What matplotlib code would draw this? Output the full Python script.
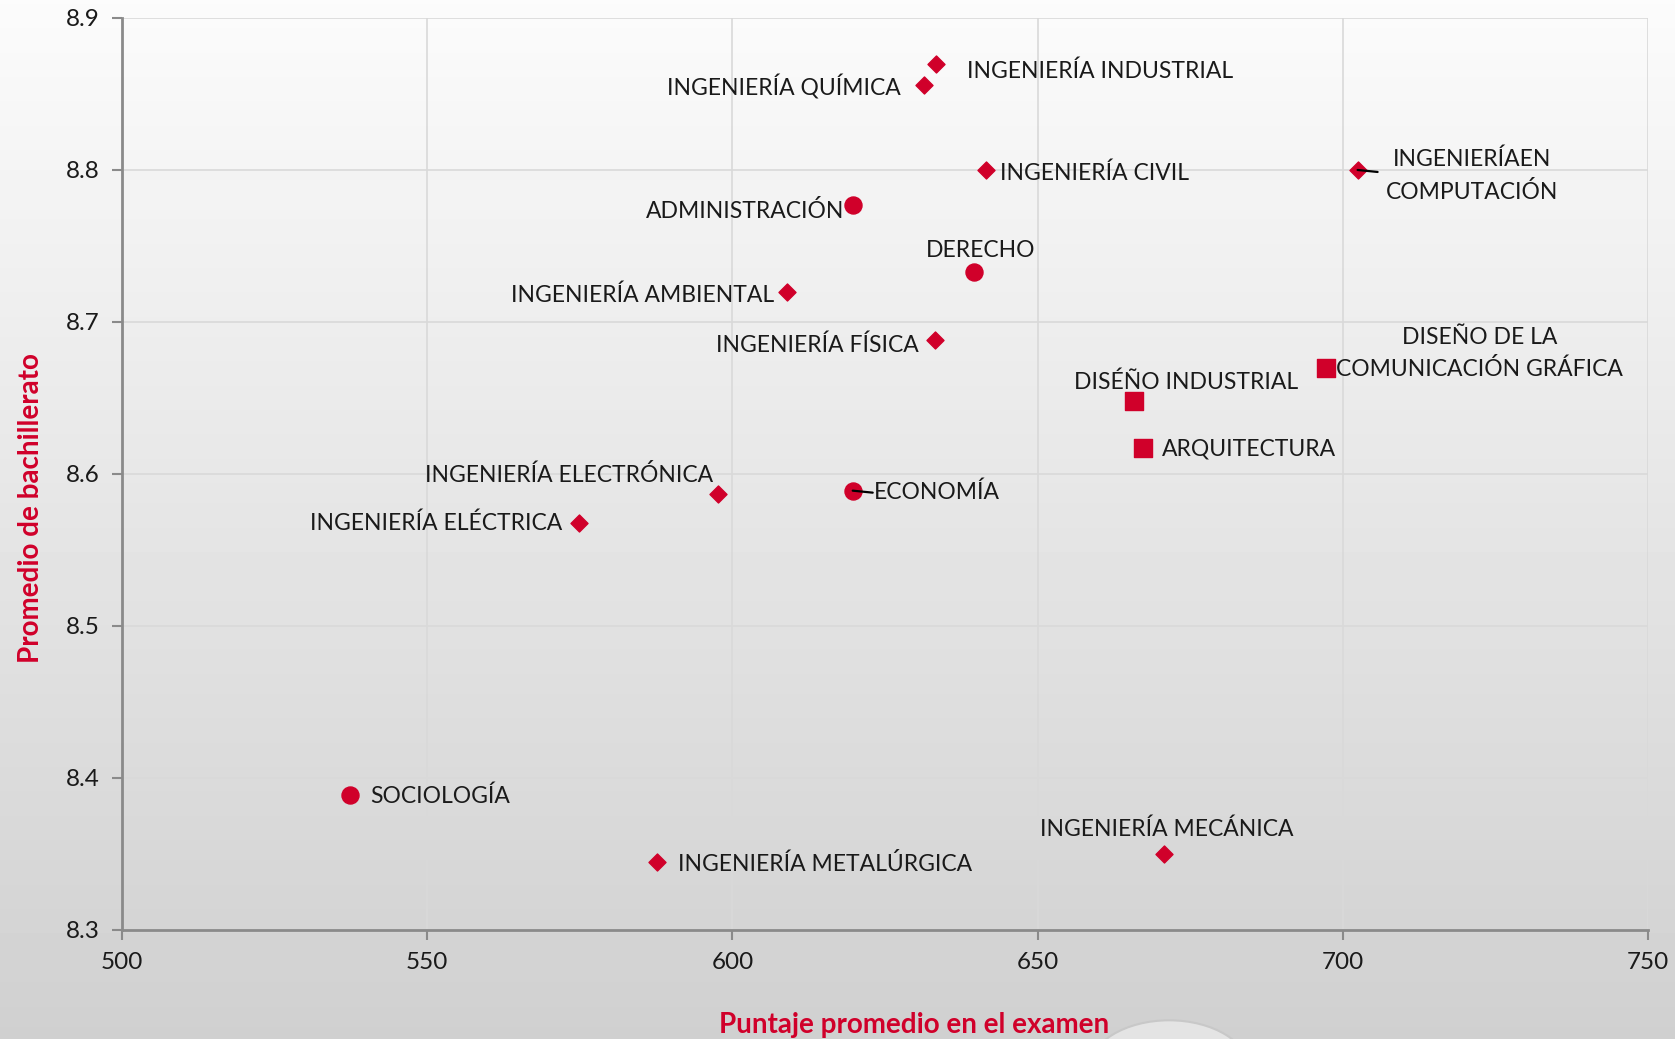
import matplotlib
matplotlib.use('Agg')
import matplotlib.pyplot as plt
import numpy as np
from matplotlib.patches import Circle

# Carreras: puntaje promedio en el examen vs promedio de bachillerato
ing_names = ['INGENIERÍA INDUSTRIAL', 'INGENIERÍA QUÍMICA', 'INGENIERÍA CIVIL',
             'INGENIERÍAEN\nCOMPUTACIÓN', 'INGENIERÍA AMBIENTAL', 'INGENIERÍA FÍSICA',
             'INGENIERÍA ELECTRÓNICA', 'INGENIERÍA ELÉCTRICA',
             'INGENIERÍA METALÚRGICA', 'INGENIERÍA MECÁNICA']
ing_x = [633.3, 631.4, 641.5, 702.4, 609.0, 633.1, 597.6, 574.9, 587.6, 670.7]
ing_y = [8.870, 8.856, 8.800, 8.800, 8.720, 8.688, 8.587, 8.568, 8.345, 8.350]

soc_names = ['ADMINISTRACIÓN', 'DERECHO', 'ECONOMÍA', 'SOCIOLOGÍA']
soc_x = [619.8, 639.6, 619.7, 537.3]
soc_y = [8.777, 8.733, 8.589, 8.389]

dis_names = ['DISEÑO DE LA\nCOMUNICACIÓN GRÁFICA', 'DISÉÑO INDUSTRIAL', 'ARQUITECTURA']
dis_x = [697.3, 665.7, 667.3]
dis_y = [8.670, 8.648, 8.617]

x_ticks = [500, 550, 600, 650, 700, 750]
y_ticks = [8.3, 8.4, 8.5, 8.6, 8.7, 8.8, 8.9]

# label offsets in pixels (dx, dy, ha, leader line)
offsets = {
    'INGENIERÍA INDUSTRIAL': (31, -8, 'left', False),
    'INGENIERÍA QUÍMICA': (-23, -2, 'right', False),
    'INGENIERÍA CIVIL': (14, -3, 'left', False),
    'INGENIERÍAEN\nCOMPUTACIÓN': (114, -6, 'center', True),
    'INGENIERÍA AMBIENTAL': (-13, -4, 'right', False),
    'INGENIERÍA FÍSICA': (-16, -5, 'right', False),
    'INGENIERÍA ELECTRÓNICA': (-5, 19, 'right', False),
    'INGENIERÍA ELÉCTRICA': (-17, -1, 'right', False),
    'INGENIERÍA METALÚRGICA': (21, -2, 'left', False),
    'INGENIERÍA MECÁNICA': (3, 25, 'center', False),
    'ADMINISTRACIÓN': (-9, -6, 'right', False),
    'DERECHO': (6, 21, 'center', False),
    'ECONOMÍA': (21, -2, 'left', True),
    'SOCIOLOGÍA': (21, -2, 'left', False),
    'DISEÑO DE LA\nCOMUNICACIÓN GRÁFICA': (153, 14, 'center', False),
    'DISÉÑO INDUSTRIAL': (53, 19, 'center', False),
    'ARQUITECTURA': (19, -1, 'left', False),
}

red = '#d0002a'
plt.rcParams['font.family'] = ['Lato', 'DejaVu Sans']

fig = plt.figure(figsize=(16.75, 10.39), dpi=100)

# gradient background
bg = fig.add_axes([0, 0, 1, 1], zorder=-10)
grad = np.linspace(0.985, 0.815, 256).reshape(-1, 1)
bg.imshow(grad, aspect='auto', cmap='gray', vmin=0, vmax=1, extent=[0, 1, 0, 1])
bg.add_patch(Circle((0.698, -0.03), 0.048, transform=bg.transAxes,
                    facecolor='#e4e4e4', edgecolor='#c8c8c8', lw=1.5))
bg.set_xlim(0, 1)
bg.set_ylim(0, 1)
bg.axis('off')

ax = fig.add_axes([0.0728, 0.105, 0.9112, 0.8777])
ax.patch.set_alpha(0)

ax.scatter(ing_x, ing_y, marker='D', s=75, color=red, zorder=3)
ax.scatter(soc_x, soc_y, marker='o', s=150, color=red, zorder=3)
ax.scatter(dis_x, dis_y, marker='s', s=150, color=red, zorder=3)

for names, xs, ys in [(ing_names, ing_x, ing_y), (soc_names, soc_x, soc_y),
                      (dis_names, dis_x, dis_y)]:
    for n, x, y in zip(names, xs, ys):
        dx, dy, ha, lead = offsets[n]
        ax.annotate(n, (x, y), xytext=(dx, dy), textcoords='offset pixels',
                    ha=ha, va='center', fontsize=16.5, color='#1a1a1a',
                    linespacing=1.6, zorder=4)
        if lead:
            ax.annotate('', (x, y), xytext=(20, -2), textcoords='offset pixels',
                        arrowprops=dict(arrowstyle='-', color='black', lw=1.6,
                                        shrinkA=0, shrinkB=0), zorder=4)

ax.set_xlim(500, 750)
ax.set_ylim(8.3, 8.9)
ax.set_xticks(x_ticks)
ax.set_yticks(y_ticks)
ax.set_yticklabels([f'{v:.1f}' for v in y_ticks])
ax.grid(True, color='#d9d9d9', lw=1.2)
ax.set_axisbelow(True)
for s in ['top', 'right']:
    ax.spines[s].set_visible(False)
for s in ['left', 'bottom']:
    ax.spines[s].set_color('#8a8a8a')
    ax.spines[s].set_linewidth(2)
ax.tick_params(length=7, width=1.5, color='#8a8a8a', labelsize=17.5,
               labelcolor='#1a1a1a', pad=9)

ax.set_xlabel('Puntaje promedio en el examen', color=red, fontsize=20,
              fontweight='bold', labelpad=28)
ax.set_ylabel('Promedio de bachillerato', color=red, fontsize=20,
              fontweight='bold', labelpad=16)
ax.xaxis.label.set_x(0.519)
ax.yaxis.label.set_y(0.4625)

fig.savefig('out.png', dpi=100)
